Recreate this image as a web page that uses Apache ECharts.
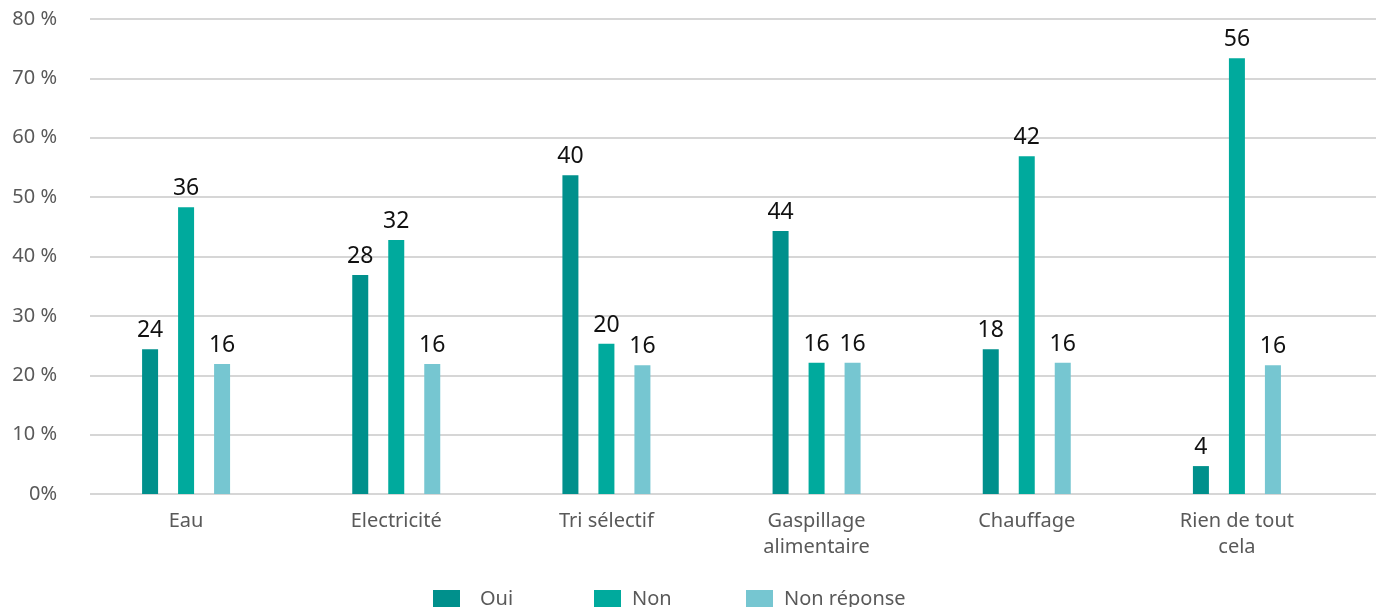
<!DOCTYPE html>
<html>
<head>
<meta charset="utf-8">
<script src="https://cdn.jsdelivr.net/npm/echarts@6/dist/echarts.min.js"></script>
<style>html,body{margin:0;padding:0;background:#fff}#c{width:1376px;height:607px}</style>
</head>
<body>
<div id="c"></div>
<script>
// Categories
const categories = ['Eau', 'Electricité', 'Tri sélectif', 'Gaspillage\nalimentaire', 'Chauffage', 'Rien de tout\ncela'];
// Bar heights as drawn against the % axis
const ouiHeights = [24.4, 36.9, 53.7, 44.3, 24.4, 4.7];
const nonHeights = [48.3, 42.8, 25.3, 22.1, 56.9, 73.4];
const nrHeights  = [21.9, 21.9, 21.7, 22.1, 22.1, 21.7];
// Value labels printed above the bars
const ouiLabels = [24, 28, 40, 44, 18, 4];
const nonLabels = [36, 32, 20, 16, 42, 56];
const nrLabels  = [16, 16, 16, 16, 16, 16];
// Y tick labels
const yTicks = ['0%', '10 %', '20 %', '30 %', '40 %', '50 %', '60 %', '70 %', '80 %'];
const seriesNames = ['Oui', 'Non', 'Non réponse'];

const colors = ['#00908c', '#00aa9d', '#76c6d1'];
const FONT = '"Noto Sans", "Open Sans", sans-serif';

function mkSeries(name, heights, labels, color) {
  return {
    name: name, type: 'bar', xAxisIndex: 0, yAxisIndex: 0,
    barWidth: 16, barGap: '125%',
    itemStyle: { color: color },
    data: heights,
    label: {
      show: true, position: 'top', distance: 7,
      color: '#111', fontSize: 23, fontFamily: FONT,
      formatter: p => String(labels[p.dataIndex])
    }
  };
}

const legends = seriesNames.map((n, i) => ({
  data: [n], left: [433, 594, 746][i], top: 589,
  itemWidth: 27, itemHeight: 18, icon: 'rect', padding: 0,
  textStyle: { color: '#595959', fontSize: 20, fontFamily: FONT, padding: [0, 0, 0, [15, 6, 6][i]] },
  selectedMode: false
}));

const chart = echarts.init(document.getElementById('c'), null, { renderer: 'canvas' });
chart.setOption({
  animation: false,
  color: colors,
  legend: legends,
  grid: [
    { left: 81, right: 34, top: 19, bottom: 113 },
    { left: 90, right: 0, top: 19, bottom: 113 }
  ],
  xAxis: [
    {
      type: 'category', gridIndex: 0, data: categories,
      axisLine: { show: false },
      axisTick: { show: false },
      axisLabel: { color: '#595959', fontSize: 20, fontFamily: FONT, margin: 14, lineHeight: 26 }
    },
    { type: 'value', gridIndex: 1, show: false, min: 0, max: 1 }
  ],
  yAxis: [
    {
      type: 'value', gridIndex: 0, min: 0, max: 80, interval: 10,
      axisLine: { show: false }, axisTick: { show: false },
      splitLine: { show: false },
      axisLabel: { show: false }
    },
    {
      type: 'value', gridIndex: 1, min: 0, max: 80, interval: 10,
      axisLine: { show: false }, axisTick: { show: false },
      splitLine: { show: true, lineStyle: { color: '#c8c8c8', width: 1.5 } },
      axisLabel: {
        color: '#595959', fontSize: 20, fontFamily: FONT, margin: 33,
        formatter: v => yTicks[Math.round(v / 10)]
      }
    }
  ],
  series: [
    mkSeries(seriesNames[0], ouiHeights, ouiLabels, colors[0]),
    mkSeries(seriesNames[1], nonHeights, nonLabels, colors[1]),
    mkSeries(seriesNames[2], nrHeights, nrLabels, colors[2])
  ]
});
</script>
</body>
</html>
